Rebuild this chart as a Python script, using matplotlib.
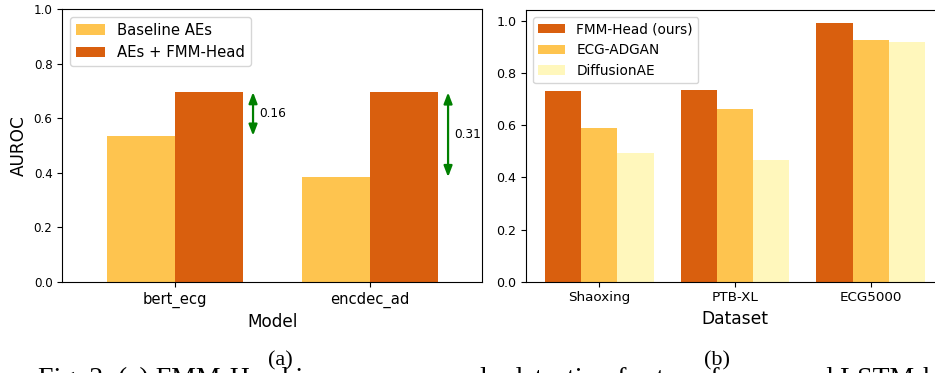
import matplotlib
matplotlib.use("Agg")
import matplotlib.pyplot as plt
import numpy as np

# ---- data ----
models = ["bert_ecg", "encdec_ad"]
baseline_aes = [0.536, 0.384]
fmm_head_aes = [0.696, 0.695]
gains = ["0.16", "0.31"]

datasets = ["Shaoxing", "PTB-XL", "ECG5000"]
fmm_head = [0.731, 0.734, 0.993]
ecg_adgan = [0.589, 0.662, 0.929]
diffusion_ae = [0.492, 0.466, 0.921]

c_dark = "#D95F0E"
c_mid = "#FEC44F"
c_light = "#FFF7BC"

W, H = 935, 373
fig = plt.figure(figsize=(W / 100, H / 100), dpi=100)

def px(x0, y0, x1, y1):
    return [x0 / W, 1 - y1 / H, (x1 - x0) / W, (y1 - y0) / H]

# ---- panel (a) ----
axa = fig.add_axes(px(62.3, 9.3, 482, 281.7))
xa = np.arange(len(models))
w = 0.35
axa.bar(xa - w / 2, baseline_aes, w, color=c_mid, label="Baseline AEs")
axa.bar(xa + w / 2, fmm_head_aes, w, color=c_dark, label="AEs + FMM-Head")
for i in range(len(models)):
    xarr = xa[i] + 0.40
    axa.annotate("", xy=(xarr, fmm_head_aes[i]), xytext=(xarr, baseline_aes[i]),
                 arrowprops=dict(arrowstyle="<|-|>,head_length=0.65,head_width=0.25",
                                 color="green", lw=1.6, shrinkA=0, shrinkB=0,
                                 mutation_scale=10))
    axa.text(xarr + 0.03, (fmm_head_aes[i] + baseline_aes[i]) / 2, gains[i],
             va="center", ha="left", fontsize=8.7)
axa.set_xlim(-0.578, 1.574)
axa.set_ylim(0, 1.0)
axa.set_xticks(xa)
axa.set_xticklabels(models, fontsize=10.6)
axa.set_yticks(np.arange(0, 1.01, 0.2))
axa.tick_params(axis="y", labelsize=8.6)
axa.set_xlabel("Model", fontsize=12.2)
axa.set_ylabel("AUROC", fontsize=12.2)
axa.legend(loc="upper left", fontsize=10.7)

# ---- panel (b) ----
axb = fig.add_axes(px(526, 10, 944, 281.7))
xb = np.arange(len(datasets))
wb = 0.8 / 3
axb.bar(xb - wb, fmm_head, wb, color=c_dark, label="FMM-Head (ours)")
axb.bar(xb, ecg_adgan, wb, color=c_mid, label="ECG-ADGAN")
axb.bar(xb + wb, diffusion_ae, wb, color=c_light, label="DiffusionAE")
axb.set_xticks(xb)
axb.set_xticklabels(datasets, fontsize=9.7)
axb.set_yticks(np.arange(0, 1.01, 0.2))
axb.tick_params(axis="y", labelsize=9.1)
axb.set_xlabel("Dataset", fontsize=12.3)
axb.legend(loc="upper left", fontsize=9.8)

# ---- captions ----
serif = ["Liberation Serif", "DejaVu Serif"]
fig.text(280 / W, 1 - 365.5 / H, "(a)", ha="center", va="baseline",
         fontsize=16, family=serif)
fig.text(717 / W, 1 - 365.5 / H, "(b)", ha="center", va="baseline",
         fontsize=16, family=serif)
fig.text(38 / W, 1 - 386.5 / H,
         "Fig. 2: (a) FMM-Head improves anomaly detection for transformer and LSTM-based",
         ha="left", va="baseline", fontsize=20, family=serif)

fig.savefig("out.png", dpi=100)
